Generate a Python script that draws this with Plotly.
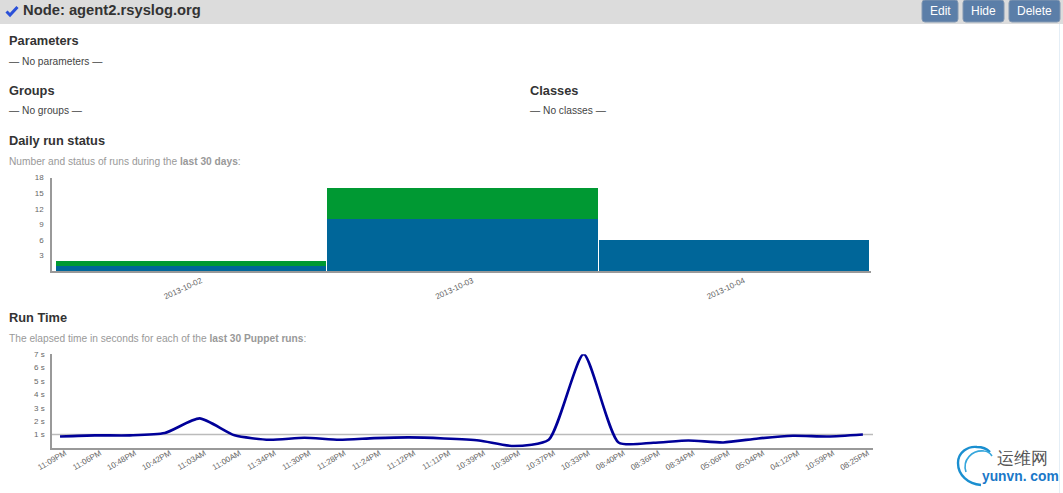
import plotly.graph_objects as go

W = 1063
H = 493
FONT = "Liberation Sans"

# daily run status
days = ["2013-10-02", "2013-10-03", "2013-10-04"]
unchanged = [1, 10, 6]
changed = [1, 6, 0]
status_ticks = [3, 6, 9, 12, 15, 18]

# run time
run_labels = ["11:09PM", "11:06PM", "10:48PM", "10:42PM", "11:03AM", "11:00AM", "11:34PM", "11:30PM",
              "11:28PM", "11:24PM", "11:12PM", "11:11PM", "10:39PM", "10:38PM", "10:37PM", "10:33PM",
              "08:40PM", "08:36PM", "08:34PM", "05:06PM", "05:04PM", "04:12PM", "10:59PM", "08:25PM"]
run_secs = [0.85, 0.93, 0.93, 1.1, 2.2, 0.93, 0.6, 0.75,
            0.6, 0.72, 0.78, 0.7, 0.55, 0.13, 0.6, 7.0,
            0.4, 0.38, 0.55, 0.4, 0.7, 0.9, 0.85, 1.0]
time_ticks = [1, 2, 3, 4, 5, 6, 7]
time_ticktext = ["1 s", "2 s", "3 s", "4 s", "5 s", "6 s", "7 s"]


def px_x(v):
    return v / W


def px_y(v):
    return 1 - v / H


def label(x, y, text, size=10, color="#333333", anchor="left"):
    fig.add_annotation(xref="paper", yref="paper", x=px_x(x), y=px_y(y), text=text, showarrow=False,
                       xanchor=anchor, yanchor="middle", align=anchor, borderpad=0, borderwidth=0,
                       font=dict(family=FONT, size=size, color=color))


def rect(x0, y0, x1, y1, color):
    fig.add_shape(type="rect", xref="paper", yref="paper", x0=px_x(x0), x1=px_x(x1),
                  y0=px_y(y0), y1=px_y(y1), fillcolor=color, line_width=0, layer="below")


def pt(a, b):
    return f"{px_x(a):.5f},{px_y(b):.5f}"


def path(points, color, width):
    # polyline in pixel coordinates of the page
    d = "M " + " L ".join(pt(a, b) for a, b in points)
    fig.add_shape(type="path", xref="paper", yref="paper", path=d, line=dict(color=color, width=width))


def curve(start, segments, color, width):
    # cubic bezier segments in pixel coordinates
    d = "M " + pt(*start)
    for c1, c2, end in segments:
        d += " C " + pt(*c1) + " " + pt(*c2) + " " + pt(*end)
    fig.add_shape(type="path", xref="paper", yref="paper", path=d, line=dict(color=color, width=width))


def button(x0, x1, y0, y1, name):
    r = 3
    d = ("M " + pt(x0 + r, y0) + " L " + pt(x1 - r, y0) + " Q " + pt(x1, y0) + " " + pt(x1, y0 + r)
         + " L " + pt(x1, y1 - r) + " Q " + pt(x1, y1) + " " + pt(x1 - r, y1)
         + " L " + pt(x0 + r, y1) + " Q " + pt(x0, y1) + " " + pt(x0, y1 - r)
         + " L " + pt(x0, y0 + r) + " Q " + pt(x0, y0) + " " + pt(x0 + r, y0) + " Z")
    fig.add_shape(type="path", xref="paper", yref="paper", path=d, fillcolor="#5b7ea8",
                  line=dict(color="#8398b2", width=1))
    label((x0 + x1) / 2, 11, name, size=12, color="white", anchor="center")


fig = go.Figure()
fig.add_trace(go.Bar(x=days, y=unchanged, marker_color="#006699", marker_line_width=0, width=0.995,
                     xaxis="x", yaxis="y"))
fig.add_trace(go.Bar(x=days, y=changed, marker_color="#009933", marker_line_width=0, width=0.995,
                     xaxis="x", yaxis="y"))
fig.add_trace(go.Scatter(x=run_labels, y=run_secs, mode="lines", cliponaxis=False,
                         line=dict(color="#000099", width=2.6, shape="spline", smoothing=0.6),
                         xaxis="x2", yaxis="y2"))

axis_line = dict(showline=True, linecolor="#999999", linewidth=1.5, showgrid=False, zeroline=False,
                 automargin=False)
tick_font = dict(family=FONT, size=8, color="#666666")

fig.update_layout(
    width=W, height=H, margin=dict(l=0, r=0, t=0, b=0), autosize=False,
    paper_bgcolor="white", plot_bgcolor="white", showlegend=False, barmode="stack",
    xaxis=dict(domain=[px_x(52), px_x(871)], anchor="y", type="category", categoryorder="array",
               categoryarray=days, range=[-0.512, 2.505], tickangle=-25, tickfont=tick_font,
               ticklabelshift=10, ticks="", **axis_line),
    yaxis=dict(domain=[px_y(271.3), px_y(177.6)], anchor="x", range=[0, 18], tickvals=status_ticks,
               tickfont=tick_font, ticks="outside", ticklen=5, tickcolor="white", **axis_line),
    xaxis2=dict(domain=[px_x(52), px_x(873)], anchor="y2", type="category", categoryorder="array",
                categoryarray=run_labels, range=[-0.23, 23.29], tickangle=-30, tickfont=tick_font,
                ticklabelshift=5, ticklabelstandoff=-4, ticks="", **axis_line),
    yaxis2=dict(domain=[px_y(447.8), px_y(354.2)], anchor="x2", range=[0, 7], tickvals=time_ticks,
                ticktext=time_ticktext, tickfont=tick_font, ticks="outside", ticklen=4,
                tickcolor="white", **axis_line),
)

# 1 s reference line
fig.add_shape(type="line", xref="x2 domain", yref="y2", x0=0, x1=1, y0=1, y1=1,
              line=dict(color="#bbbbbb", width=1.5), layer="below")

# header band and buttons
rect(0, 0, W, 24, "#dcdcdc")
rect(1059, 24, 1060, H, "#e4eef6")
button(922, 958, 0, 22, "Edit")
button(963, 1004, 0, 22, "Hide")
button(1009, 1060, 0, 22, "Delete")

path([(6.5, 11.5), (10, 15), (17.5, 7)], "#2a50d8", 3)
label(23, 10, "<b>Node: agent2.rsyslog.org</b>", size=14.75, color="#333333")

label(9, 41, "<b>Parameters</b>", size=12.8)
label(9, 62, "— No parameters —", size=10.2, color="#444444")
label(9, 90.5, "<b>Groups</b>", size=12.8)
label(9, 110.5, "— No groups —", size=10.2, color="#444444")
label(530, 90.5, "<b>Classes</b>", size=12.8)
label(530, 110.5, "— No classes —", size=10.2, color="#444444")
label(9, 140.5, "<b>Daily run status</b>", size=12.8)
label(9, 161, "Number and status of runs during the <b>last 30 days</b>:", size=10.2, color="#999999")
label(9, 317.5, "<b>Run Time</b>", size=12.8)
label(9, 338, "The elapsed time in seconds for each of the <b>last 30 Puppet runs</b>:", size=10.2, color="#999999")

# watermark
curve((981, 485), [((968, 484), (958, 475), (958, 463)), ((958, 452), (968, 446), (977, 447)),
                   ((982, 447), (987, 449), (990, 452))], "#1a8fd0", 2.4)
curve((966, 472), [((962, 460), (972, 450), (984, 451)), ((987, 451), (990, 453), (992, 456))], "#35a6dc", 1.6)
label(997, 458, "运维网", size=17, color="#555555")
label(982, 476, "<b>yunvn. com</b>", size=13.8, color="#1a78c8")

fig.write_html("out.html", config=dict(displayModeBar=False),
               post_script="document.body.style.margin='0';document.body.style.overflow='hidden';")
